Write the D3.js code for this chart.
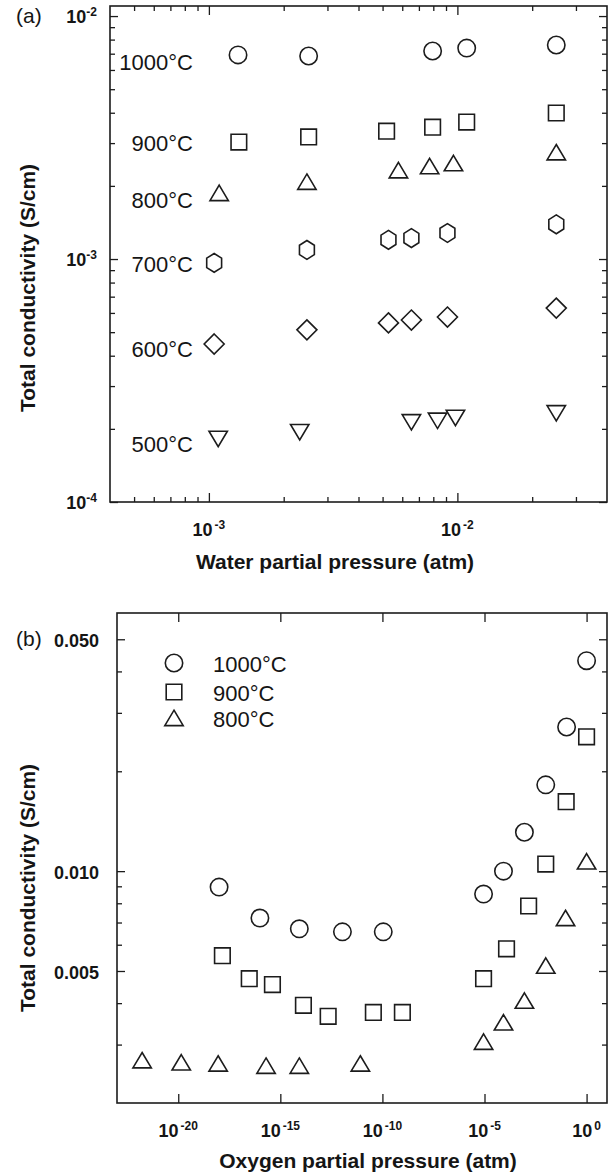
<!DOCTYPE html>
<html>
<head>
<meta charset="utf-8">
<script src="https://cdn.jsdelivr.net/npm/d3@7"></script>
<style>
  body { margin: 0; background: #fff; }
  svg { display: block; }
  text { font-family: "Liberation Sans", Arial, Helvetica, sans-serif; fill: #151515; }
</style>
</head>
<body>
<svg id="chart" width="615" height="1174"></svg>
<script>
// ---------- (a) conductivity vs. water partial pressure ----------
const tempsA = ["1000°C", "900°C", "800°C", "700°C", "600°C", "500°C"];
const shapesA = ["circle", "square", "triangle", "hexagon", "diamond", "triangleDown"];
// conductivity level at which each temperature label sits
const labelSigmaA = [6.5e-3, 2.99e-3, 1.75e-3, 9.58e-4, 4.28e-4, 1.73e-4];

const pH2O_1000 = [1.31e-3, 2.52e-3, 7.95e-3, 1.09e-2, 2.50e-2];
const sigmaW_1000 = [6.92e-3, 6.85e-3, 7.18e-3, 7.38e-3, 7.60e-3];
const pH2O_900 = [1.32e-3, 2.52e-3, 5.19e-3, 7.95e-3, 1.09e-2, 2.50e-2];
const sigmaW_900 = [3.03e-3, 3.18e-3, 3.36e-3, 3.49e-3, 3.66e-3, 3.99e-3];
const pH2O_800 = [1.10e-3, 2.48e-3, 5.79e-3, 7.73e-3, 9.64e-3, 2.50e-2];
const sigmaW_800 = [1.87e-3, 2.08e-3, 2.32e-3, 2.41e-3, 2.48e-3, 2.75e-3];
const pH2O_700 = [1.05e-3, 2.48e-3, 5.28e-3, 6.53e-3, 9.12e-3, 2.50e-2];
const sigmaW_700 = [9.64e-4, 1.09e-3, 1.20e-3, 1.22e-3, 1.28e-3, 1.39e-3];
const pH2O_600 = [1.05e-3, 2.48e-3, 5.28e-3, 6.53e-3, 9.12e-3, 2.50e-2];
const sigmaW_600 = [4.47e-4, 5.11e-4, 5.46e-4, 5.61e-4, 5.77e-4, 6.28e-4];
const pH2O_500 = [1.09e-3, 2.32e-3, 6.53e-3, 8.32e-3, 9.82e-3, 2.50e-2];
const sigmaW_500 = [1.82e-4, 1.94e-4, 2.13e-4, 2.16e-4, 2.22e-4, 2.32e-4];

const xMajorA = [1e-3, 1e-2];
const xMinorA = [5e-4, 6e-4, 7e-4, 8e-4, 9e-4, 2e-3, 3e-3, 4e-3, 5e-3, 6e-3, 7e-3, 8e-3, 9e-3, 2e-2, 3e-2];
const xLabelsA = [["10", "-3"], ["10", "-2"]];
const yMajorA = [1e-4, 1e-3, 1e-2];
const yMinorA = [2e-4, 3e-4, 4e-4, 5e-4, 6e-4, 7e-4, 8e-4, 9e-4, 2e-3, 3e-3, 4e-3, 5e-3, 6e-3, 7e-3, 8e-3, 9e-3];
const yLabelsA = [["10", "-4"], ["10", "-3"], ["10", "-2"]];

// ---------- (b) conductivity vs. oxygen partial pressure ----------
const tempsB = ["1000°C", "900°C", "800°C"];
const shapesB = ["circle", "square", "triangle"];

const pO2_1000 = [1e-18, 1e-16, 8.5e-15, 1.1e-12, 1.1e-10, 9e-6, 8.5e-5, 9e-4, 1e-2, 0.105, 1];
const sigmaO_1000 = [8.95e-3, 7.22e-3, 6.70e-3, 6.56e-3, 6.56e-3, 8.53e-3, 1.0e-2, 1.31e-2, 1.82e-2, 2.72e-2, 4.31e-2];
const pO2_900 = [1.45e-18, 3.0e-17, 4.1e-16, 1.35e-14, 2.2e-13, 3.6e-11, 9.5e-10, 9e-6, 1.2e-4, 1.45e-3, 1e-2, 0.1, 1];
const sigmaO_900 = [5.56e-3, 4.74e-3, 4.55e-3, 3.94e-3, 3.65e-3, 3.75e-3, 3.75e-3, 4.74e-3, 5.83e-3, 7.85e-3, 1.05e-2, 1.62e-2, 2.54e-2];
const pO2_800 = [1.7e-22, 1.4e-20, 9e-19, 2.0e-16, 8.5e-15, 8.3e-12, 9e-6, 8.5e-5, 9e-4, 1e-2, 0.093, 1];
const sigmaO_800 = [2.69e-3, 2.65e-3, 2.63e-3, 2.59e-3, 2.59e-3, 2.63e-3, 3.06e-3, 3.50e-3, 4.07e-3, 5.19e-3, 7.22e-3, 1.07e-2];

const xMajorB = [1e-20, 1e-15, 1e-10, 1e-5, 1];
const xLabelsB = [["10", "-20"], ["10", "-15"], ["10", "-10"], ["10", "-5"], ["10", "0"]];
const yMajorB = [0.005, 0.01, 0.05];
const yMinorB = [0.003, 0.004, 0.006, 0.007, 0.008, 0.009, 0.02, 0.03, 0.04];
const yLabelsB = ["0.005", "0.010", "0.050"];

// ---------- drawing ----------
const INK = "#1c1c1c";
const svg = d3.select("#chart");
svg.append("rect").attr("width", 615).attr("height", 1174).attr("fill", "#fff");

function polygon(pts) { return "M" + pts.map(p => p.map(v => v.toFixed(2)).join(",")).join("L") + "Z"; }
const SHAPES = {
  circle: "M8.7,0A8.7,8.7,0,1,1,-8.7,0A8.7,8.7,0,1,1,8.7,0Z",
  square: polygon([[-7.8, -7.8], [7.8, -7.8], [7.8, 7.8], [-7.8, 7.8]]),
  triangle: polygon([[0, -7.8], [9.2, 7.6], [-9.2, 7.6]]),
  triangleDown: polygon([[-9.2, -7.6], [9.2, -7.6], [0, 7.8]]),
  hexagon: polygon(d3.range(6).map(i => {
    const a = Math.PI / 3 * i - Math.PI / 2;
    return [8.6 * Math.cos(a) * 1.0, 9.4 * Math.sin(a)];
  })),
  diamond: polygon([[0, -10], [10, 0], [0, 10], [-10, 0]])
};

function marker(g, shape, x, y) {
  g.append("path")
    .attr("d", SHAPES[shape])
    .attr("transform", `translate(${x},${y})`)
    .attr("fill", "none")
    .attr("stroke", INK)
    .attr("stroke-width", 1.6)
    .attr("stroke-linejoin", "miter");
}

// value label like 10^-3 with a raised exponent
function powerLabel(g, x, y, parts, anchor, gap) {
  const t = g.append("text")
    .attr("x", x).attr("y", y)
    .attr("text-anchor", anchor)
    .attr("font-weight", "bold");
  t.append("tspan").attr("font-size", 18).text(parts[0]);
  t.append("tspan").attr("font-size", 12).attr("dx", gap).attr("dy", -7).text(parts[1]);
}

function styleAxis(sel) {
  sel.select(".domain").remove();
  sel.selectAll(".tick line").attr("stroke", INK).attr("stroke-width", 1.3);
  sel.selectAll(".tick text").remove();
}

function frameAxes(g, x, y, xMaj, xMin, yMaj, yMin, xLen, yLen) {
  const [x0, x1] = x.range();
  const [y0, y1] = y.range(); // y0 bottom, y1 top
  const sets = [[xMaj, xLen[0]], [xMin, xLen[1]]];
  sets.forEach(([vals, len]) => {
    if (!vals.length) return;
    g.append("g").attr("transform", `translate(0,${y0})`)
      .call(d3.axisBottom(x).tickValues(vals).tickSize(-len).tickFormat(""))
      .call(styleAxis);
    g.append("g").attr("transform", `translate(0,${y1})`)
      .call(d3.axisTop(x).tickValues(vals).tickSize(-len).tickFormat(""))
      .call(styleAxis);
  });
  [[yMaj, yLen[0]], [yMin, yLen[1]]].forEach(([vals, len]) => {
    if (!vals.length) return;
    g.append("g").attr("transform", `translate(${x0},0)`)
      .call(d3.axisLeft(y).tickValues(vals).tickSize(-len).tickFormat(""))
      .call(styleAxis);
    g.append("g").attr("transform", `translate(${x1},0)`)
      .call(d3.axisRight(y).tickValues(vals).tickSize(-len).tickFormat(""))
      .call(styleAxis);
  });
  g.append("rect")
    .attr("x", x0).attr("y", y1)
    .attr("width", x1 - x0).attr("height", y0 - y1)
    .attr("fill", "none").attr("stroke", INK).attr("stroke-width", 1.6);
}

// ----- panel (a) -----
const xA = d3.scaleLog().domain([4e-4, 4e-2]).range([110, 607]);
const yA = d3.scaleLog().domain([1e-4, 0.011]).range([502, 6]);
const gA = svg.append("g");
frameAxes(gA, xA, yA, xMajorA, xMinorA, yMajorA, yMinorA, [9, 5], [8, 5]);

xMajorA.forEach((v, i) => powerLabel(gA, xA(v), 536, xLabelsA[i], "middle", 2));
yMajorA.forEach((v, i) => powerLabel(gA, 97, yA(v) + 7, yLabelsA[i], "end", 0));

const seriesA = [
  [pH2O_1000, sigmaW_1000], [pH2O_900, sigmaW_900], [pH2O_800, sigmaW_800],
  [pH2O_700, sigmaW_700], [pH2O_600, sigmaW_600], [pH2O_500, sigmaW_500]
];
seriesA.forEach(([xs, ys], i) => {
  d3.zip(xs, ys).forEach(([xv, yv]) => marker(gA, shapesA[i], xA(xv), yA(yv)));
  gA.append("text")
    .attr("x", 193).attr("y", yA(labelSigmaA[i]) + 8)
    .attr("text-anchor", "end").attr("font-size", 22)
    .text(tempsA[i]);
});

gA.append("text").attr("x", 16).attr("y", 23).attr("font-size", 21).text("(a)");
gA.append("text")
  .attr("x", 335).attr("y", 569)
  .attr("text-anchor", "middle").attr("font-size", 21).attr("font-weight", "bold")
  .text("Water partial pressure (atm)");
gA.append("text")
  .attr("transform", "translate(35,288) rotate(-90)")
  .attr("text-anchor", "middle").attr("font-size", 21).attr("font-weight", "bold")
  .text("Total conductivity (S/cm)");

// ----- panel (b) -----
const xB = d3.scaleLog().domain([1e-23, 10]).range([117, 607]);
const yB = d3.scaleLog().domain([0.002, 0.06]).range([1103, 613]);
const gB = svg.append("g");
frameAxes(gB, xB, yB, xMajorB, [], yMajorB, yMinorB, [9, 5], [8, 5]);

xMajorB.forEach((v, i) => powerLabel(gB, xB(v), 1137, xLabelsB[i], "middle", 2));
yMajorB.forEach((v, i) => {
  gB.append("text")
    .attr("x", 99).attr("y", yB(v) + 8)
    .attr("text-anchor", "end").attr("font-size", 18).attr("font-weight", "bold")
    .text(yLabelsB[i]);
});

const seriesB = [[pO2_1000, sigmaO_1000], [pO2_900, sigmaO_900], [pO2_800, sigmaO_800]];
seriesB.forEach(([xs, ys], i) => {
  d3.zip(xs, ys).forEach(([xv, yv]) => marker(gB, shapesB[i], xB(xv), yB(yv)));
});

// legend
const legend = gB.append("g").attr("transform", "translate(174,663)");
tempsB.forEach((t, i) => {
  const ly = [0, 29, 55][i];
  marker(legend, shapesB[i], 0, ly);
  legend.append("text").attr("x", 39).attr("y", ly + 9)
    .attr("font-size", 22).text(t);
});

gB.append("text").attr("x", 16).attr("y", 646).attr("font-size", 21).text("(b)");
gB.append("text")
  .attr("x", 368).attr("y", 1168)
  .attr("text-anchor", "middle").attr("font-size", 21).attr("font-weight", "bold")
  .text("Oxygen partial pressure (atm)");
gB.append("text")
  .attr("transform", "translate(35,888) rotate(-90)")
  .attr("text-anchor", "middle").attr("font-size", 21).attr("font-weight", "bold")
  .text("Total conductivity (S/cm)");
</script>
</body>
</html>
